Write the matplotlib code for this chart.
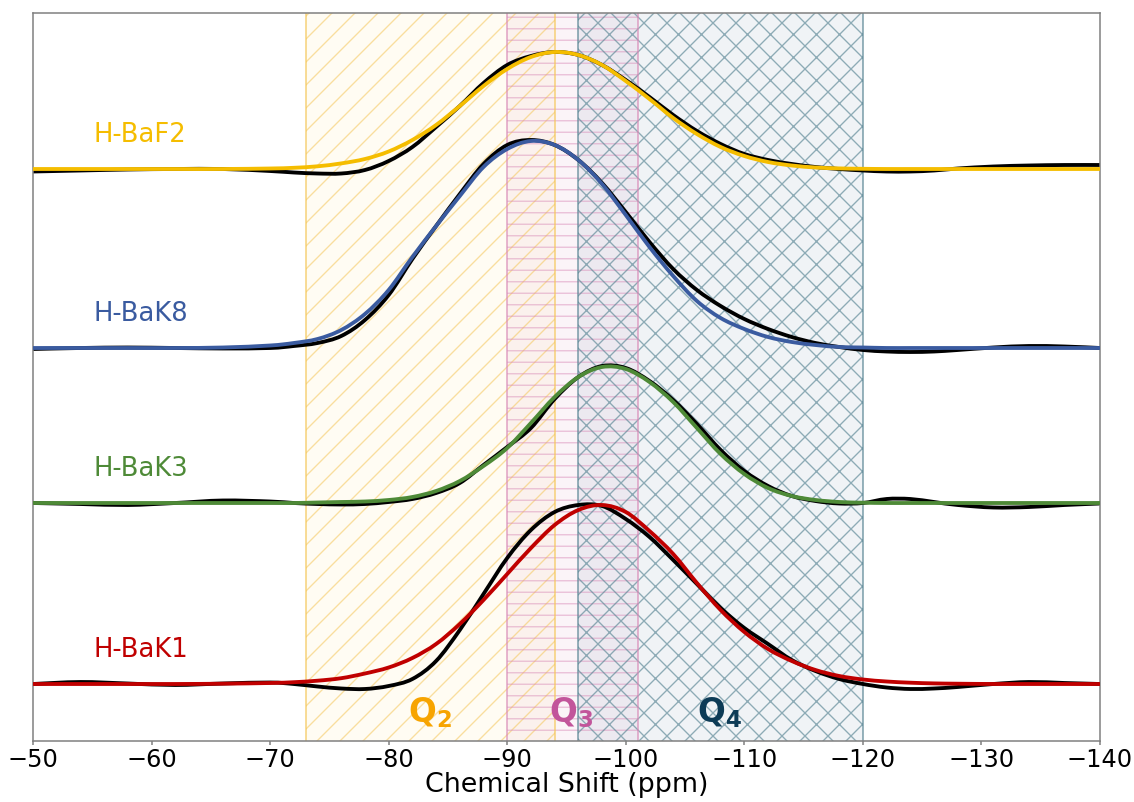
import matplotlib
matplotlib.use("Agg")
import matplotlib.pyplot as plt
from matplotlib.path import Path
from matplotlib.patches import PathPatch
import numpy as np

# ---- data (intensities in display units above each baseline) ----
shift = [-50, -54, -58, -62, -66, -70, -72, -74, -76, -78, -80, -82, -84, -86, -88, -90,
         -92, -94, -96, -98, -100, -102, -104, -106, -108, -110, -112, -114, -116, -118,
         -120, -122, -124, -126, -128, -131, -134, -137, -140]

samples = ["H-BaK1", "H-BaK3", "H-BaK8", "H-BaF2"]
offsets = [57, 238, 393, 572]
colors = ["#C00000", "#4E8A37", "#3A5BA0", "#F5BD00"]

fit_bak1 = [0, 0, 0, 0, 0.3, 1, 1.8, 3.3, 5.8, 10.5, 16.5, 26, 40, 60, 84, 110,
            136, 159, 174, 179, 172, 153, 130, 101, 74, 52, 35, 23, 14, 8,
            4.5, 2.5, 1.3, 0.6, 0.3, 0, 0, 0, 0]
exp_bak1 = [0, 2, 0.5, -1, 0.5, 1.5, 0, -2.5, -4.5, -5, -2, 5, 23, 54, 90, 126,
            154, 172, 179, 178, 165, 147, 124, 100, 76, 56, 40, 24, 13, 5,
            0, -3.5, -5, -4.5, -3, 0, 2, 1, 0]

fit_bak3 = [0, 0, 0, 0, 0, 0, 0, 0.5, 1, 1.5, 3, 6, 12, 22, 37, 55,
            80, 106, 126, 136, 134, 121, 101, 75, 49, 29, 15, 7, 3, 1,
            0.3, 0, 0, 0, 0, 0, 0, 0, 0]
exp_bak3 = [0, -1, -2, 0, 2.5, 1.5, 0, -1, -1.5, -1, 1, 4, 10, 20, 38, 56,
            75, 104, 126, 137, 135, 122, 103, 79, 53, 32, 17, 7, 2, -0.5,
            0, 4, 4, 1, -2, -4.5, -4, -2, -0.5]

fit_bak8 = [0, 0, 0, 0, 0.5, 2.5, 5, 9, 18, 34, 58, 91, 122, 152, 181, 199,
            207, 203, 188, 164, 133, 101, 72, 47, 30, 19, 11, 6, 3, 1,
            0.5, 0, 0, 0, 0, 0, 0, 0, 0]
exp_bak8 = [-1, 0, 0.5, 0, -0.5, 0, 2, 5, 12, 28, 53, 89, 122, 154, 184, 203,
            208, 203, 188, 165, 136, 106, 79, 58, 42, 29, 19, 11, 5, 1,
            -2, -3.5, -4, -3.5, -2, 0.5, 2, 1.5, 0]

fit_baf2 = [0, 0, 0, 0, 0, 0.5, 1.2, 2.7, 5.6, 10, 17.5, 29, 44, 63, 83, 100,
            112, 117, 114, 104, 88, 70, 51, 35, 22, 13, 7, 3.5, 1.5, 0.6,
            0.2, 0, 0, 0, 0, 0, 0, 0, 0]
exp_baf2 = [-2.5, -1.5, -0.5, 0, 0, -2, -3.5, -4.5, -4.5, -1, 8, 22, 42, 63, 86, 104,
            113, 117, 114, 104, 89, 72, 54, 38, 25, 15, 9, 5, 2, 0,
            -1.5, -2.5, -2.5, -1.5, 0.5, 2.5, 3.5, 4, 4]

fits = [fit_bak1, fit_bak3, fit_bak8, fit_baf2]
exps = [exp_bak1, exp_bak3, exp_bak8, exp_baf2]

region_names = ["Q_2", "Q_3", "Q_4"]
region_bounds = [(-73, -94), (-90, -101), (-96, -120)]
region_label_x = [-83.5, -95.4, -107.9]
region_text_colors = ["#F7A400", "#C2559B", "#0D3B56"]
region_faces = [(1.0, 0.85, 0.40, 0.08), (0.85, 0.55, 0.72, 0.09), (0.55, 0.65, 0.75, 0.13)]
region_hatch_colors = [(0.96, 0.78, 0.35, 0.55), (0.85, 0.55, 0.72, 0.50), (0.35, 0.52, 0.58, 0.65)]
region_hatches = ["//", "--", "xx"]

xticks = [-50, -60, -70, -80, -90, -100, -110, -120, -130, -140]


def smooth_path(xs, ys):
    """Smooth (Catmull-Rom style) Bezier path passing through the given points."""
    P = np.column_stack([xs, ys]).astype(float)
    Pe = np.vstack([P[0], P, P[-1]])
    verts = [P[0]]
    codes = [Path.MOVETO]
    for i in range(len(P) - 1):
        p0, p1, p2, p3 = Pe[i], Pe[i + 1], Pe[i + 2], Pe[i + 3]
        c1 = p1 + (p2 - p0) / 6.0
        c2 = p2 - (p3 - p1) / 6.0
        verts += [c1, c2, p2]
        codes += [Path.CURVE4] * 3
    return Path(np.array(verts), codes)


# ---- figure ----
DPI = 138
plt.rcParams["hatch.linewidth"] = 0.7
fig = plt.figure(figsize=(1134 / DPI, 802 / DPI), dpi=DPI)
ax = fig.add_axes([33 / 1134, 61 / 802, (1100 - 33) / 1134, (741 - 13) / 802])

for (x0, x1), face, hc, hatch in zip(region_bounds, region_faces, region_hatch_colors, region_hatches):
    ax.axvspan(x0, x1, facecolor=face, edgecolor="none", zorder=0)
    ax.axvspan(x0, x1, facecolor="none", edgecolor=hc, hatch=hatch, lw=0, zorder=0.5)
    ax.axvline(x0, color=hc[:3], alpha=0.8, lw=0.8, zorder=0.6)
    ax.axvline(x1, color=hc[:3], alpha=0.8, lw=0.8, zorder=0.6)

x = np.array(shift, dtype=float)
for name, off, col, fy, ey in zip(samples, offsets, colors, fits, exps):
    ax.add_patch(PathPatch(smooth_path(x, np.array(ey) + off), facecolor="none",
                           edgecolor="black", lw=2.0, zorder=2, capstyle="round",
                           joinstyle="round"))
    ax.add_patch(PathPatch(smooth_path(x, np.array(fy) + off), facecolor="none",
                           edgecolor=col, lw=2.0, zorder=3, capstyle="round",
                           joinstyle="round"))
    ax.text(-55.1, off + 34, name, color=col, fontsize=13.5, ha="left", va="center", zorder=4)

for name, lx, tc in zip(region_names, region_label_x, region_text_colors):
    ax.text(lx, 28, r"$\mathbf{" + name + "}$", color=tc, fontsize=17,
            ha="center", va="center", zorder=4)

ax.set_xlim(-50, -140)
ax.set_ylim(0, 728)
ax.set_yticks([])
ax.set_xticks(xticks)
ax.tick_params(axis="x", labelsize=12.5, length=2.2, width=0.8, color="#808080", pad=1.5)
ax.set_xlabel("Chemical Shift (ppm)", fontsize=14, labelpad=0)
for sp in ax.spines.values():
    sp.set_color("#808080")
    sp.set_linewidth(0.8)

fig.savefig("out.png", dpi=DPI)
